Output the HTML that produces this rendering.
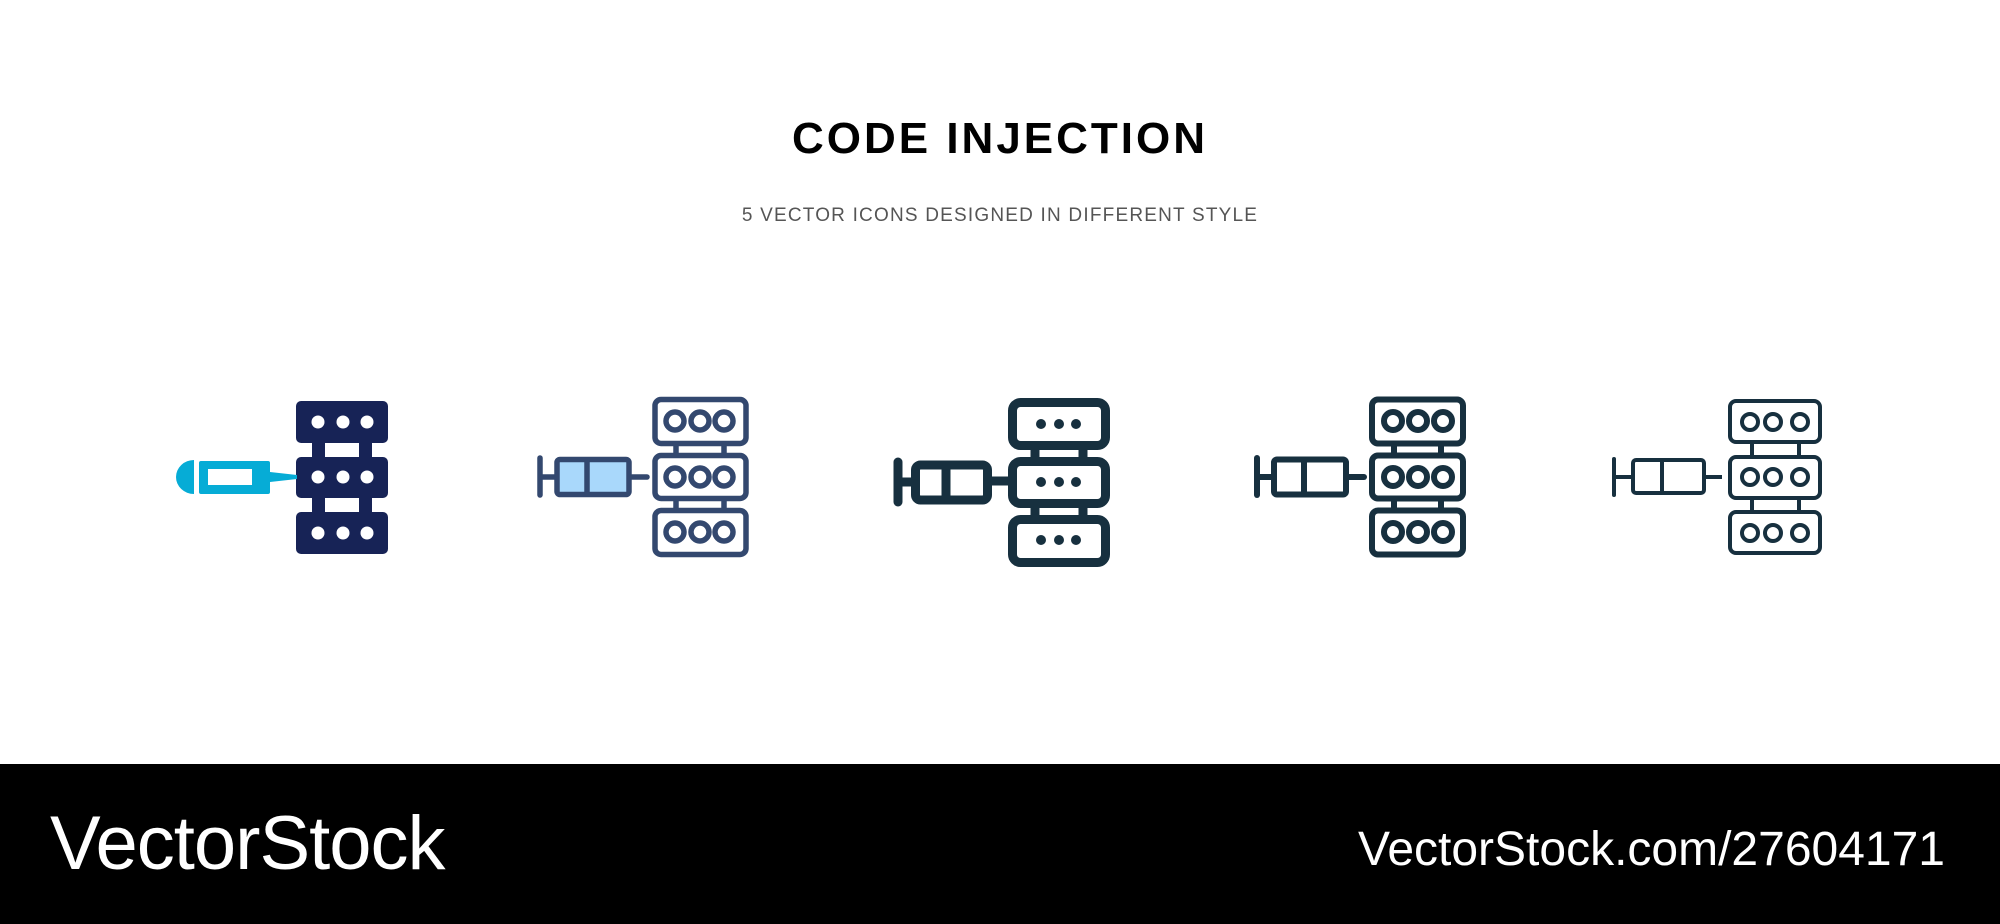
<!DOCTYPE html>
<html><head><meta charset="utf-8"><style>
html,body{margin:0;padding:0;background:#fff;}
body{width:2000px;height:924px;position:relative;overflow:hidden;font-family:"Liberation Sans",sans-serif;}
.t{position:absolute;left:0;width:2000px;text-align:center;}
#title{top:114px;font-size:44px;font-weight:bold;letter-spacing:3px;color:#000;}
#sub{top:205px;font-size:19px;letter-spacing:1.2px;color:#555;}
#foot{position:absolute;left:0;top:764px;width:2000px;height:160px;background:#000;}
#l{position:absolute;left:50px;top:36px;font-size:76px;color:#fff;letter-spacing:-1px;}
#r{position:absolute;right:55px;top:58px;font-size:48px;color:#fff;}
svg{position:absolute;left:0;top:0;}
</style></head><body>
<div class="t" id="title">CODE INJECTION</div>
<div class="t" id="sub">5 VECTOR ICONS DESIGNED IN DIFFERENT STYLE</div>
<svg width="2000" height="764" viewBox="0 0 2000 764">
<!-- icon1 -->
<g fill="#172356">
<rect x="312" y="440" width="13" height="20"/><rect x="359" y="440" width="13" height="20"/>
<rect x="312" y="495" width="13" height="20"/><rect x="359" y="495" width="13" height="20"/>
<rect x="296" y="401" width="92" height="42" rx="5"/>
<rect x="296" y="457" width="92" height="41" rx="5"/>
<rect x="296" y="512" width="92" height="42" rx="5"/>
</g>
<g fill="#fff">
<circle cx="318" cy="422" r="6.5"/><circle cx="343" cy="422" r="6.5"/><circle cx="367" cy="422" r="6.5"/>
<circle cx="318" cy="477" r="6.5"/><circle cx="343" cy="477" r="6.5"/><circle cx="367" cy="477" r="6.5"/>
<circle cx="318" cy="533" r="6.5"/><circle cx="343" cy="533" r="6.5"/><circle cx="367" cy="533" r="6.5"/>
</g>
<g fill="#06acd6">
<path d="M194 460 L194 494 A18 17 0 0 1 194 460 Z"/>
<rect x="199" y="461" width="71" height="33" rx="2"/>
<polygon points="270,472 297,475 297,479 270,482"/>
</g>
<rect x="208" y="469" width="44" height="16" fill="#fff"/>
<!-- icon2 -->
<g stroke="#33486f" stroke-width="5.5" fill="none">
<line x1="676" y1="446" x2="676" y2="453"/><line x1="724" y1="446" x2="724" y2="453"/>
<line x1="676" y1="501" x2="676" y2="508"/><line x1="724" y1="501" x2="724" y2="508"/>
<rect x="655" y="399.5" width="91" height="44" rx="6"/>
<rect x="655" y="455.5" width="91" height="43" rx="6"/>
<rect x="655" y="510.5" width="91" height="44" rx="6"/>
<circle cx="675" cy="421" r="9"/><circle cx="700" cy="421" r="9"/><circle cx="724" cy="421" r="9"/>
<circle cx="675" cy="477" r="9"/><circle cx="700" cy="477" r="9"/><circle cx="724" cy="477" r="9"/>
<circle cx="675" cy="532" r="9"/><circle cx="700" cy="532" r="9"/><circle cx="724" cy="532" r="9"/>
<line x1="540" y1="458" x2="540" y2="495" stroke-linecap="round"/>
<line x1="540" y1="477" x2="556" y2="477"/>
<rect x="557" y="459.5" width="72" height="35" rx="3" fill="#a9d8fb"/>
<line x1="587" y1="460" x2="587" y2="494"/>
<line x1="632" y1="477" x2="647" y2="477" stroke-linecap="round"/>
</g>
<!-- icon3 -->
<g stroke="#17303f" stroke-width="9" fill="none">
<line x1="1035" y1="450" x2="1035" y2="457"/><line x1="1083" y1="450" x2="1083" y2="457"/>
<line x1="1035" y1="508" x2="1035" y2="515"/><line x1="1083" y1="508" x2="1083" y2="515"/>
<rect x="1012.5" y="402.5" width="93" height="43" rx="8"/>
<rect x="1012.5" y="461.5" width="93" height="42" rx="8"/>
<rect x="1012.5" y="519.5" width="93" height="43" rx="8"/>
<line x1="898" y1="462" x2="898" y2="502" stroke-linecap="round"/>
<line x1="898" y1="482" x2="912" y2="482"/>
<rect x="915.5" y="465" width="72" height="35" rx="5"/>
<line x1="946" y1="465" x2="946" y2="500"/>
<line x1="988" y1="481" x2="1010" y2="481"/>
</g>
<g fill="#17303f">
<ellipse cx="1041" cy="424" rx="5" ry="5"/><ellipse cx="1059" cy="424" rx="5" ry="5"/><ellipse cx="1076" cy="424" rx="5" ry="5"/>
<ellipse cx="1041" cy="482" rx="5" ry="5"/><ellipse cx="1059" cy="482" rx="5" ry="5"/><ellipse cx="1076" cy="482" rx="5" ry="5"/>
<ellipse cx="1041" cy="540" rx="5" ry="5"/><ellipse cx="1059" cy="540" rx="5" ry="5"/><ellipse cx="1076" cy="540" rx="5" ry="5"/>
</g>
<!-- icon4 -->
<g stroke="#17303f" stroke-width="6" fill="none">
<line x1="1394" y1="446" x2="1394" y2="453"/><line x1="1441" y1="446" x2="1441" y2="453"/>
<line x1="1394" y1="501" x2="1394" y2="508"/><line x1="1441" y1="501" x2="1441" y2="508"/>
<rect x="1372" y="399.5" width="91" height="44" rx="6"/>
<rect x="1372" y="455.5" width="91" height="43" rx="6"/>
<rect x="1372" y="510.5" width="91" height="44" rx="6"/>
<circle cx="1393" cy="421" r="9"/><circle cx="1418" cy="421" r="9"/><circle cx="1443" cy="421" r="9"/>
<circle cx="1393" cy="477" r="9"/><circle cx="1418" cy="477" r="9"/><circle cx="1443" cy="477" r="9"/>
<circle cx="1393" cy="532" r="9"/><circle cx="1418" cy="532" r="9"/><circle cx="1443" cy="532" r="9"/>
<line x1="1257" y1="458" x2="1257" y2="495" stroke-linecap="round"/>
<line x1="1257" y1="477" x2="1272" y2="477"/>
<rect x="1274" y="459.5" width="72" height="35" rx="3"/>
<line x1="1304" y1="460" x2="1304" y2="494"/>
<line x1="1349" y1="477" x2="1364" y2="477" stroke-linecap="round"/>
</g>
<!-- icon5 -->
<g stroke="#17303f" stroke-width="4" fill="none">
<line x1="1752" y1="443" x2="1752" y2="455"/><line x1="1799" y1="443" x2="1799" y2="455"/>
<line x1="1752" y1="499" x2="1752" y2="510"/><line x1="1799" y1="499" x2="1799" y2="510"/>
<rect x="1730" y="401" width="90" height="41" rx="6"/>
<rect x="1730" y="457" width="90" height="41" rx="6"/>
<rect x="1730" y="512" width="90" height="41" rx="6"/>
<circle cx="1750" cy="422" r="8"/><circle cx="1773" cy="422" r="8"/><circle cx="1800" cy="422" r="8"/>
<circle cx="1750" cy="477" r="8"/><circle cx="1773" cy="477" r="8"/><circle cx="1800" cy="477" r="8"/>
<circle cx="1750" cy="533" r="8"/><circle cx="1773" cy="533" r="8"/><circle cx="1800" cy="533" r="8"/>
<line x1="1614" y1="459" x2="1614" y2="495" stroke-linecap="round"/>
<line x1="1614" y1="477" x2="1633" y2="477"/>
<rect x="1633" y="460" width="71" height="33" rx="3"/>
<line x1="1662" y1="460" x2="1662" y2="493"/>
<line x1="1704" y1="477" x2="1722" y2="477"/>
</g>
</svg>
<div id="foot"><div id="l">VectorStock</div><div id="r">VectorStock.com/27604171</div></div>
</body></html>
